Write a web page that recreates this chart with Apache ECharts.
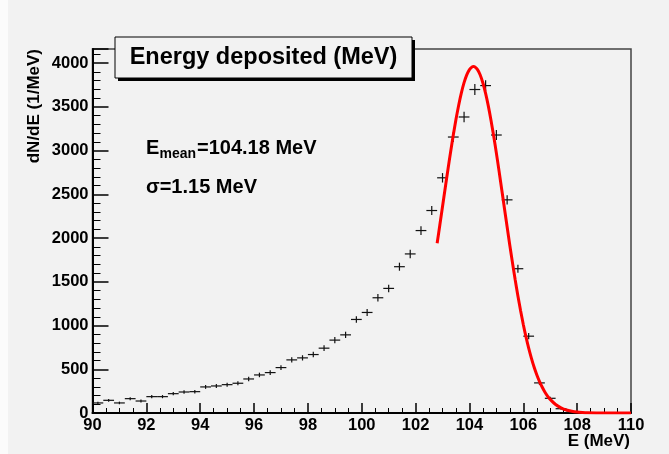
<!DOCTYPE html>
<html>
<head>
<meta charset="utf-8">
<script src="https://cdn.jsdelivr.net/npm/echarts@6/dist/echarts.min.js"></script>
<style>
html,body{margin:0;padding:0;background:#f2f2f2;}
#c{width:669px;height:454px;}
</style>
</head>
<body>
<div id="c"></div>
<script>
// Histogram bins (MeV), counts and vertical error half-heights
const binCenters = [90.2,90.6,91.0,91.4,91.8,92.2,92.6,93.0,93.4,93.8,94.2,94.6,95.0,95.4,95.8,96.2,96.6,97.0,97.4,97.8,98.2,98.6,99.0,99.4,99.8,100.2,100.6,101.0,101.4,101.8,102.2,102.6,103.0,103.4,103.8,104.2,104.6,105.0,105.4,105.8,106.2,106.6,107.0,107.4,107.8];
const counts = [115,145,115,164,137,187,187,221,240,244,298,309,324,340,389,435,462,519,607,630,668,741,833,893,1069,1149,1317,1424,1672,1818,2085,2314,2688,3154,3383,3697,3742,3177,2436,1649,878,344,168,49,12];
const errors = [15,16,15,17,16,18,18,19,20,20,22,22,23,23,25,26,27,28,30,30,31,33,35,36,38,40,42,43,46,48,50,52,54,58,60,62,62,58,52,46,36,24,18,10,6];
// Fit curve
const fitX = [102.8,102.9,103.0,103.1,103.2,103.3,103.4,103.5,103.6,103.7,103.8,103.9,104.0,104.1,104.15,104.2,104.3,104.4,104.5,104.6,104.7,104.8,104.9,105.0,105.1,105.2,105.3,105.4,105.5,105.6,105.7,105.8,105.9,106.0,106.1,106.2,106.3,106.4,106.5,106.6,106.7,106.8,106.9,107.0,107.2,107.4,107.6,107.8,108.0,108.2,108.4,108.7,109.0,109.5,110.0];
const fitY = [1940,2148,2359,2572,2781,2984,3177,3356,3518,3658,3775,3864,3925,3956,3960,3956,3925,3863,3771,3653,3510,3346,3165,2970,2764,2552,2338,2125,1915,1713,1520,1338,1169,1012,870,742,628,526,438,362,297,241,194,156,97,59,34,20,11,6,3,1,0,0,0];
const xTicks = {min:90, max:110, interval:2};
const yTicks = {min:0, max:4160, interval:500};
const titleText = 'Energy deposited (MeV)';
const xName = 'E (MeV)';
const yName = 'dN/dE (1/MeV)';
const meanText = '=104.18 MeV';
const sigmaText = '\u03c3=1.15 MeV';

const FONT = "'Liberation Sans', Arial, sans-serif";
const histData = binCenters.map((x,i)=>[x,counts[i],errors[i]]);
const fitData = fitX.map((x,i)=>[x,fitY[i]]);

const chart = echarts.init(document.getElementById('c'), null, {renderer:'canvas'});
chart.setOption({
  animation:false,
  backgroundColor:'#f2f2f2',
  grid:{left:92.5, right:38, top:49, bottom:41, show:true, borderColor:'#444', borderWidth:1.5, backgroundColor:'transparent'},
  xAxis:{
    type:'value', min:xTicks.min, max:xTicks.max, interval:xTicks.interval,
    axisLine:{show:true, onZero:false, lineStyle:{color:'#000', width:2}},
    axisTick:{show:true, inside:true, length:10, lineStyle:{color:'#000', width:1.5}},
    minorTick:{show:true, splitNumber:4, length:5, lineStyle:{color:'#000', width:1}},
    splitLine:{show:false},
    axisLabel:{color:'#000', fontFamily:FONT, fontWeight:'bold', fontSize:16.5, margin:4}
  },
  yAxis:{
    type:'value', min:yTicks.min, max:yTicks.max, interval:yTicks.interval,
    axisLine:{show:true, lineStyle:{color:'#000', width:2}},
    axisTick:{show:true, inside:true, length:16, lineStyle:{color:'#000', width:1.5}},
    minorTick:{show:true, splitNumber:5, length:8, lineStyle:{color:'#000', width:1}},
    splitLine:{show:false},
    axisLabel:{color:'#000', fontFamily:FONT, fontWeight:'bold', fontSize:16.5, margin:4, showMaxLabel:false,
      formatter:v=> (v % 500 === 0 ? String(v) : '')}
  },
  series:[
    {
      type:'custom', data:histData, clip:true,
      renderItem:function(params, api){
        const x=api.value(0), y=api.value(1), e=api.value(2);
        const pL=api.coord([x-0.2,y]), pR=api.coord([x+0.2,y]);
        const pT=api.coord([x,y+e]), pB=api.coord([x,y-e]);
        return {type:'group', children:[
          {type:'line', shape:{x1:pL[0],y1:pL[1],x2:pR[0],y2:pR[1]}, style:{stroke:'#111', lineWidth:1.2}},
          {type:'line', shape:{x1:pT[0],y1:pT[1],x2:pB[0],y2:pB[1]}, style:{stroke:'#111', lineWidth:1.2}}
        ]};
      }
    },
    {
      type:'line', data:fitData, showSymbol:false, smooth:0.3, clip:true,
      lineStyle:{color:'#ff0000', width:3}
    }
  ],
  graphic:[
    {type:'rect', left:0, top:0, shape:{width:8, height:454}, style:{fill:'#fbfbfb'}, z:-1},
    {type:'rect', x:118, y:40, shape:{width:297, height:41}, style:{fill:'#000'}, z:10},
    {type:'rect', x:115, y:37, shape:{width:297, height:41}, style:{fill:'#f2f2f2', stroke:'#000', lineWidth:1}, z:11},
    {type:'text', x:263.5, y:57.5, style:{text:titleText, font:"bold 23.5px "+FONT, fill:'#000', align:'center', verticalAlign:'middle'}, z:12},
    {type:'text', x:146, y:148, style:{text:'E', font:"bold 20px "+FONT, fill:'#000', align:'left', verticalAlign:'middle'}, z:12},
    {type:'text', x:159.5, y:154.5, style:{text:'mean', font:"bold 14px "+FONT, fill:'#000', align:'left', verticalAlign:'middle'}, z:12},
    {type:'text', x:197, y:148, style:{text:meanText, font:"bold 20px "+FONT, fill:'#000', align:'left', verticalAlign:'middle'}, z:12},
    {type:'text', x:146, y:187, style:{text:sigmaText, font:"bold 20px "+FONT, fill:'#000', align:'left', verticalAlign:'middle'}, z:12},
    {type:'text', x:630, y:441, style:{text:xName, font:"bold 17px "+FONT, fill:'#000', align:'right', verticalAlign:'middle'}, z:12},
    {type:'text', x:34, y:49, rotation:Math.PI/2, style:{text:yName, font:"bold 17px "+FONT, fill:'#000', align:'right', verticalAlign:'middle'}, z:12}
  ]
});
</script>
</body>
</html>
